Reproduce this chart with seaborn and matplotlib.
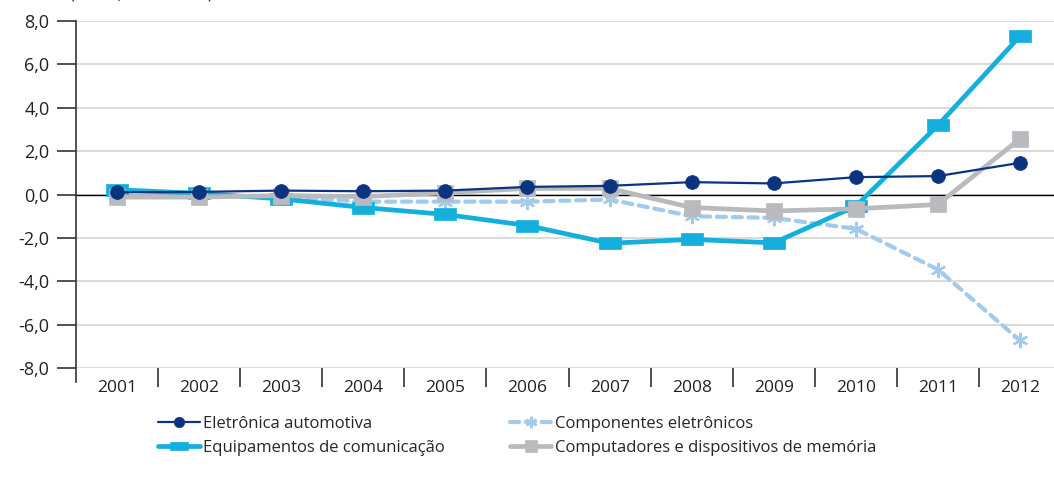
import numpy as np
import pandas as pd
import matplotlib
matplotlib.use("Agg")
import matplotlib.pyplot as plt
import seaborn as sns

years = list(range(2001, 2013))

automotiva = [0.10, 0.12, 0.18, 0.15, 0.18, 0.35, 0.40, 0.57, 0.51, 0.80, 0.85, 1.46]
comunicacao = [0.22, 0.05, -0.20, -0.60, -0.92, -1.43, -2.25, -2.07, -2.23, -0.54, 3.19, 7.30]
componentes = [-0.10, -0.10, -0.10, -0.33, -0.33, -0.33, -0.23, -1.00, -1.08, -1.58, -3.46, -6.73]
computadores = [-0.12, -0.12, -0.05, -0.10, 0.08, 0.28, 0.28, -0.60, -0.76, -0.66, -0.46, 2.57]

names = [
    "Eletrônica automotiva",
    "Equipamentos de comunicação",
    "Componentes eletrônicos",
    "Computadores e dispositivos de memória",
]

df = pd.DataFrame({
    "ano": years * 4,
    "valor": automotiva + comunicacao + componentes + computadores,
    "serie": np.repeat(names, len(years)),
})

sns.set_style("white")
plt.rcParams["font.family"] = ["Open Sans", "DejaVu Sans"]

fig = plt.figure(figsize=(10.54, 4.84), dpi=100)
ax = fig.add_axes([76 / 1054, 1 - 368 / 484, 1 - 76 / 1054, 347 / 484])

# wide rectangle marker for the communication series
rect = [(-1.0, -0.52), (1.0, -0.52), (1.0, 0.52), (-1.0, 0.52), (-1.0, -0.52)]

styles = {
    names[0]: dict(color="#0b3480", lw=1.6, marker="o", ms=10, mew=0.5, dashes=None, z=5),
    names[1]: dict(color="#14afdc", lw=3.4, marker=rect, ms=16.5, mew=0.5, dashes=None, z=3),
    names[2]: dict(color="#a2caec", lw=3.0, marker=(6, 2, 0), ms=11, mew=1.6, dashes=(2.2, 1.6), z=2),
    names[3]: dict(color="#b9babd", lw=3.4, marker="s", ms=11.5, mew=0.5, dashes=None, z=4),
}

handles = []
for name in names:
    st = styles[name]
    sub = df[df["serie"] == name]
    sns.lineplot(data=sub, x="ano", y="valor", ax=ax, color=st["color"], lw=st["lw"],
                 marker=st["marker"], markersize=st["ms"], markeredgecolor=st["color"],
                 markeredgewidth=st["mew"], zorder=st["z"], label=name, legend=False)
    line = ax.lines[-1]
    if st["dashes"] is not None:
        line.set_dashes(st["dashes"])
        line.set_dash_capstyle("round")
    handles.append(line)

ax.axhline(0, color="black", lw=1.0, zorder=1)

ax.set_ylim(-8, 8)
ax.set_xlim(2000.5, 2012 + 34 / 82.1)
ax.set_yticks(np.arange(-8, 9, 2))
ax.set_yticklabels([f"{v:.1f}".replace(".", ",") for v in np.arange(-8, 9, 2)])
ax.set_xticks(years)
ax.set_xticklabels([str(y) for y in years])
ax.set_xticks(np.arange(2001.5, 2012, 1), minor=True)
ax.grid(axis="y", color="#d4d4d4", lw=1.2)
ax.set_axisbelow(True)

for s in ["top", "right", "bottom"]:
    ax.spines[s].set_visible(False)
ax.spines["left"].set_color("#333333")
ax.spines["left"].set_linewidth(1.2)
ax.spines["left"].set_bounds(-8.65, 8)

ax.tick_params(axis="y", length=14, width=1.2, color="#333333", labelsize=13,
               labelcolor="#222222", pad=5, left=True)
ax.tick_params(axis="x", which="major", length=0, labelsize=12.5, labelcolor="#222222", pad=9)
ax.tick_params(axis="x", which="minor", length=14, width=1.2, color="#333333", bottom=True)
ax.set_xlabel("")
ax.set_ylabel("")

# title line, cut by the top edge as in the source image
fig.text(70 / 1054, 1.012, "(Em %, 2001-2012)", fontsize=12, color="#222222", va="center")

fig.legend(handles, [h.get_label() for h in handles], ncol=2, loc="upper left",
           bbox_to_anchor=(158 / 1054, 1 - 416 / 484), frameon=False, fontsize=12,
           handlelength=2.5, columnspacing=3.9, handletextpad=0.2, labelspacing=0.45,
           borderaxespad=0, borderpad=0, markerscale=0.75)

fig.savefig("out.png", dpi=100)
